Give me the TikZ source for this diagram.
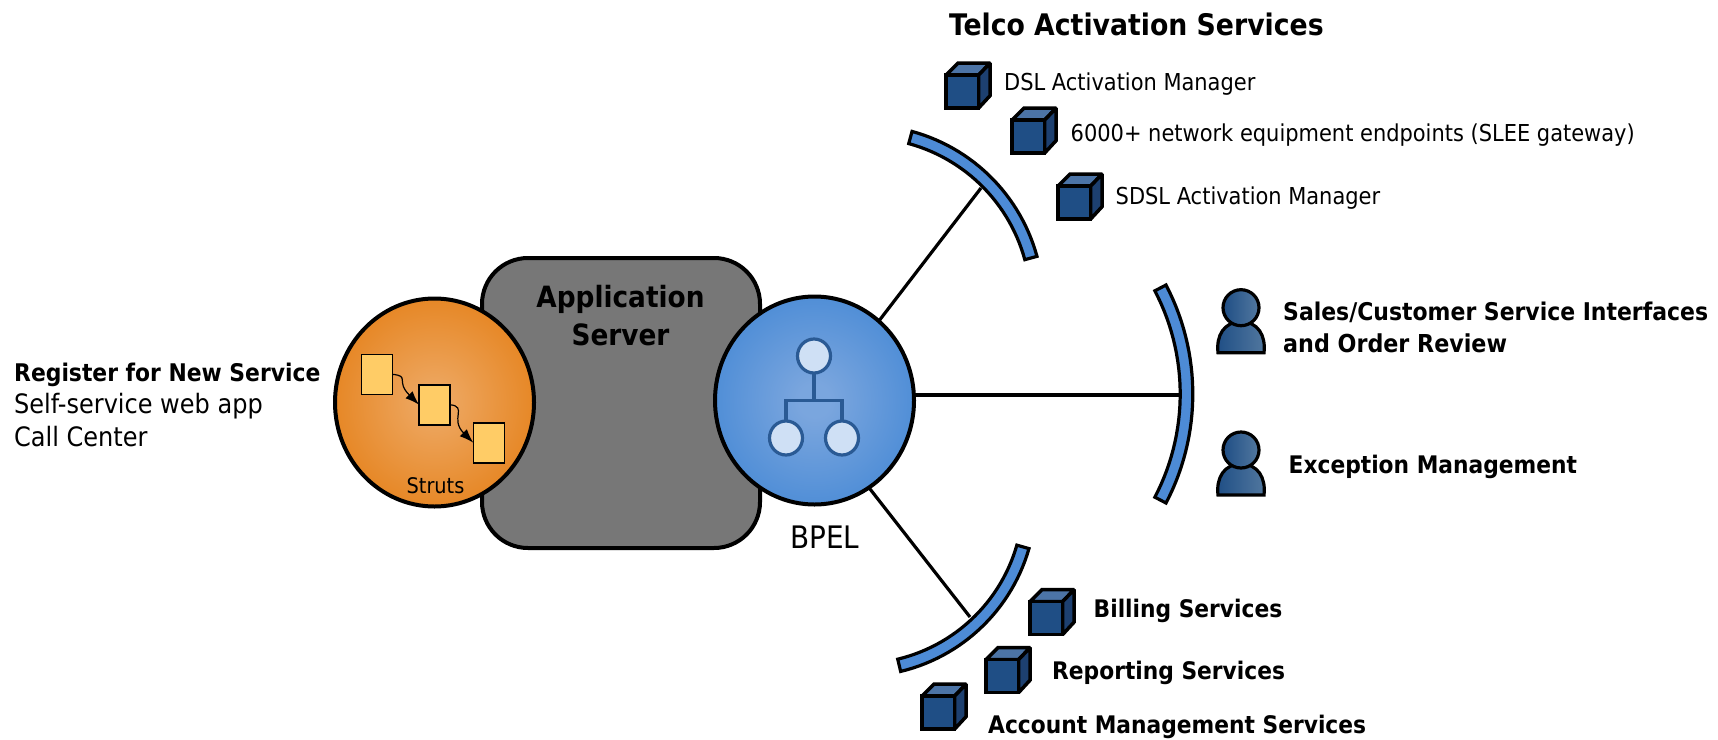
\documentclass[tikz,border=0pt]{standalone}
\usepackage{fontspec}
\setmainfont{DejaVu Sans Condensed}[BoldFont={DejaVu Sans Condensed Bold}]
\usetikzlibrary{shapes.geometric,arrows.meta}
\definecolor{cubefront}{HTML}{1F4E85}
\definecolor{cubetop}{HTML}{4C74A6}
\definecolor{cubeside}{HTML}{1D4070}
\definecolor{bandblue}{HTML}{4D8BD6}
\definecolor{treeblue}{HTML}{2A5A94}
\definecolor{treefill}{HTML}{CFE0F5}
\definecolor{pageyellow}{HTML}{FFCC66}
\definecolor{servergray}{HTML}{777777}
\definecolor{personleft}{HTML}{1F4E85}
\definecolor{personright}{HTML}{52789F}
\pgfdeclareradialshading{orangeball}{\pgfpointorigin}{rgb(0bp)=(0.93,0.65,0.37);rgb(4bp)=(0.93,0.65,0.37);rgb(27bp)=(0.90,0.52,0.13);rgb(50bp)=(0.90,0.52,0.13)}
\pgfdeclareradialshading{blueball}{\pgfpointorigin}{rgb(0bp)=(0.48,0.65,0.87);rgb(4bp)=(0.48,0.65,0.87);rgb(27bp)=(0.30,0.55,0.84);rgb(50bp)=(0.30,0.55,0.84)}
\tikzset{
  x=1pt,y=-1pt,
  ball/.style={ellipse,draw=black,line width=4pt,inner sep=0pt,outer sep=0pt,minimum width=199pt,minimum height=208pt},
  wire/.style={draw=black,line width=3.2pt},
  bandstyle/.style={draw=black,fill=bandblue,line width=3.2pt,line join=miter},
  pagebox/.style={rectangle,draw=black,fill=pageyellow,line width=1.6pt,inner sep=0pt,outer sep=0pt,minimum width=31pt,minimum height=40pt},
  pagearrow/.style={draw=black,line width=1.2pt,-{Latex[length=14pt,width=10pt]}},
  treenode/.style={ellipse,draw=treeblue,fill=treefill,line width=3.2pt,inner sep=0pt,outer sep=0pt,minimum width=33pt,minimum height=34pt},
  treeline/.style={draw=treeblue,line width=3.2pt},
  label/.style={anchor=west,inner sep=0pt,yshift=-2.5pt,font=\fontsize{23.3}{27}\selectfont},
  boldlabel/.style={anchor=west,inner sep=0pt,yshift=-2.5pt,font=\fontsize{24.2}{28}\selectfont\bfseries},
}
\newcommand{\myband}[5]{\draw[bandstyle] plot[domain=#4:#5,samples=30] ({#1+(#3+6.3)*cos(\x)},{#2+(#3+6.3)*sin(\x)}) -- plot[domain=#5:#4,samples=30] ({#1+(#3-6.3)*cos(\x)},{#2+(#3-6.3)*sin(\x)}) -- cycle;}
\newcommand{\mycube}[2]{\begin{scope}[shift={(#1+1.2,#2-1)},line width=3.5pt,draw=black,line join=miter,miter limit=2]
  \draw[fill=cubetop] (0,-33) -- (12,-45) -- (44,-45) -- (32.5,-33) -- cycle;
  \draw[fill=cubeside] (32.5,0) -- (44,-12.5) -- (44,-45) -- (32.5,-33) -- cycle;
  \draw[fill=cubefront] (0,0) rectangle (32.5,-33);
\end{scope}}
\newcommand{\myperson}[2]{\begin{scope}[shift={(#1,#2)},line width=3.2pt,draw=black]
  \draw[left color=personleft,right color=personright] (-23,45) .. controls (-25,28) and (-17,14) .. (0,14) .. controls (17,14) and (25,28) .. (23,45) -- cycle;
  \draw[left color=personleft,right color=personright] (0,0) circle[radius=18];
\end{scope}}
\begin{document}
\begin{tikzpicture}
\useasboundingbox (0,0) rectangle (1718,739);
% arcs
\myband{957.5}{394}{229}{-27.6}{27.6}
\myband{865}{303.4}{172}{-74.7}{-15.3}
\myband{859.5}{500}{170}{16}{76.5}
\coordinate (arcA) at (981,188);
\coordinate (arcB) at (1180,395);
\coordinate (arcC) at (970,617);
% server
\node[rectangle,draw=black,fill=servergray,line width=4pt,rounded corners=46pt,inner sep=0pt,minimum width=278pt,minimum height=290pt] (server) at (621,403) {};
\node[font=\fontsize{29.3}{38}\selectfont\bfseries,align=center,inner sep=0pt] (servertext) at (620.5,316) {Application\\Server};
% balls and connectors
\node[ball,shading=orangeball] (struts) at (434.5,402.5) {};
\node[ball,shading=blueball] (bpel) at (814.5,400.5) {};
\draw[wire] (bpel.51.8) -- (arcA);
\draw[wire] (bpel.east |- arcB) -- (arcB);
\draw[wire] (bpel.-58) -- (arcC);
% struts content
\node[pagebox] (p1) at (377,374.3) {};
\node[pagebox] (p2) at (434.5,404.7) {};
\node[pagebox] (p3) at (488.8,442.7) {};
\draw[pagearrow] (p1.east) .. controls +(18,2) and +(-24,-24) .. (p2.west);
\draw[pagearrow] (p2.east) .. controls +(18,2) and +(-24,-24) .. (p3.west);
\node[font=\fontsize{21.5}{25}\selectfont,inner sep=0pt] (strutstext) at (435.5,486) {Struts};
% tree
\node[treenode] (t1) at (814,356) {};
\node[treenode] (t2) at (786,438) {};
\node[treenode] (t3) at (842,438) {};
\coordinate (bus) at (814,400.7);
\draw[treeline] (t1) -- (bus);
\draw[treeline] (t2) -- (t2 |- bus) -- (t3 |- bus) -- (t3);
\node[font=\fontsize{31}{36}\selectfont,inner sep=0pt] (bpeltext) at (825,537) {BPEL};
% cubes
\mycube{945}{109}
\mycube{1011}{154}
\mycube{1057}{220}
\mycube{1029}{635.5}
\mycube{985}{693.5}
\mycube{921}{730}
% persons
\myperson{1241}{307.7}
\myperson{1241}{450}
% text
\node[anchor=west,inner sep=0pt,font=\fontsize{29.7}{34}\selectfont\bfseries] (title) at (949,24) {Telco Activation Services};
\node[label] (l1) at (1004,82) {DSL Activation Manager};
\node[label] (l2) at (1070.5,132.6) {6000+ network equipment endpoints (SLEE gateway)};
\node[label] (l3) at (1115.5,196) {SDSL Activation Manager};
\node[boldlabel,font=\fontsize{24.4}{28}\selectfont\bfseries] (l4) at (1283,310) {Sales/Customer Service Interfaces};
\node[boldlabel,font=\fontsize{24.7}{28}\selectfont\bfseries] (l5) at (1283,341) {and Order Review};
\node[boldlabel] (l6) at (1288.5,464.6) {Exception Management};
\node[boldlabel] (l7) at (1093.5,608) {Billing Services};
\node[boldlabel] (l8) at (1052,670.6) {Reporting Services};
\node[boldlabel] (l9) at (988,724) {Account Management Services};
\node[boldlabel,font=\fontsize{24.3}{28}\selectfont\bfseries] (l10) at (14,372.5) {Register for New Service};
\node[label,font=\fontsize{26.7}{31}\selectfont] (l11) at (14,404) {Self-service web app};
\node[label,font=\fontsize{26.7}{31}\selectfont] (l12) at (14,434) {Call Center};
\end{tikzpicture}
\end{document}
